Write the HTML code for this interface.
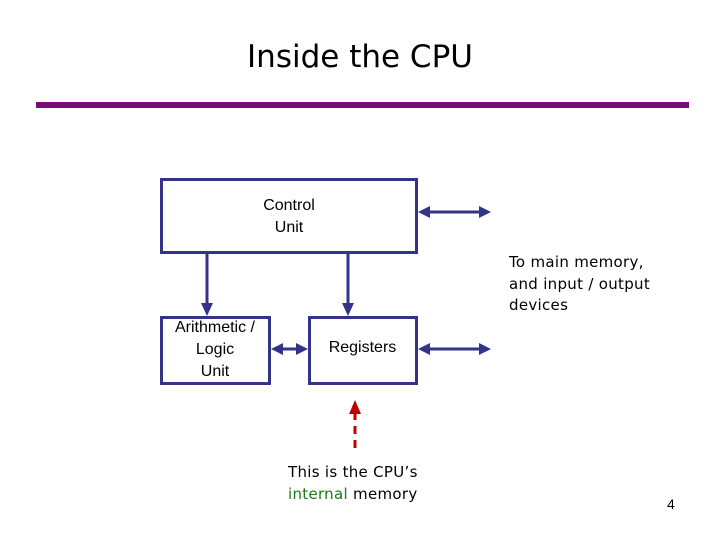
<!DOCTYPE html>
<html><head><style>
body{margin:0;width:720px;height:540px;background:#fff;overflow:hidden;position:relative;font-family:"Liberation Sans",sans-serif}
.t{position:absolute;white-space:nowrap}
.c{font-family:"DejaVu Sans",sans-serif;font-size:15px;letter-spacing:0.3px}
</style></head><body>
<div class="t" style="left:0;width:720px;text-align:center;top:39px;font-size:31px;color:#000;font-family:'DejaVu Sans',sans-serif">Inside the CPU</div>
<svg width="720" height="540" style="position:absolute;left:0;top:0">
<rect x="36" y="102" width="653" height="6" fill="#7a0a7a"/>
<g fill="none" stroke="#33338a" stroke-width="3">
<rect x="161.5" y="179.5" width="255" height="73"/>
<rect x="161.5" y="317.5" width="108" height="66"/>
<rect x="309.5" y="317.5" width="107" height="66"/>
<line x1="207" y1="253" x2="207" y2="305"/>
<line x1="348" y1="253" x2="348" y2="305"/>
<line x1="428" y1="212" x2="480" y2="212"/>
<line x1="428" y1="349" x2="480" y2="349"/>
<line x1="281" y1="349" x2="297" y2="349"/>
</g>
<g fill="#33338a">
<polygon points="201,303 213,303 207,316"/>
<polygon points="342,303 354,303 348,316"/>
<polygon points="418,212 430,206 430,218"/>
<polygon points="491,212 479,206 479,218"/>
<polygon points="418,349 430,343 430,355"/>
<polygon points="491,349 479,343 479,355"/>
<polygon points="271,349 283,343 283,355"/>
<polygon points="308,349 296,343 296,355"/>
</g>
<line x1="355" y1="412" x2="355" y2="454" stroke="#c00000" stroke-width="3" stroke-dasharray="8,6"/>
<polygon points="349,414 361,414 355,400" fill="#c00000"/>
</svg>
<div class="t" style="left:240px;width:98px;text-align:center;top:195px;font-size:16px;line-height:22px">Control<br>Unit</div>
<div class="t" style="left:161px;width:108px;text-align:center;top:317px;font-size:16px;line-height:22px">Arithmetic /<br>Logic<br>Unit</div>
<div class="t" style="left:309px;width:107px;text-align:center;top:339px;font-size:16px">Registers</div>
<div class="t c" style="left:509px;top:252px;line-height:21.5px">To main memory,<br>and input / output<br>devices</div>
<div class="t c" style="left:288px;top:461px;line-height:22px">This is the CPU’s<br><span style="color:#1a7a1a">internal</span> memory</div>
<div class="t" style="left:667px;top:496px;font-size:14px">4</div>
</body></html>
